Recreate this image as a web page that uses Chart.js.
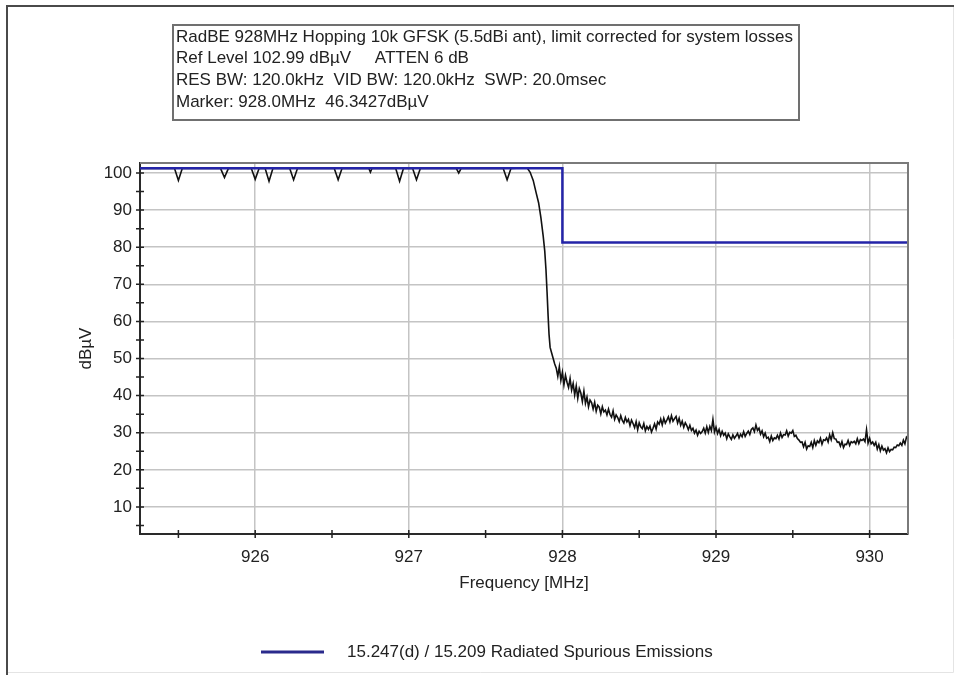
<!DOCTYPE html>
<html>
<head>
<meta charset="utf-8">
<script src="https://cdn.jsdelivr.net/npm/chart.js@4.4.1/dist/chart.umd.min.js"></script>
<style>
  html, body { margin: 0; padding: 0; background: #fff; }
  canvas { display: block; }
</style>
</head>
<body>
<canvas id="myChart" width="954" height="675"></canvas>
<script>
const FONT = '"Liberation Sans", Arial, sans-serif';

const infoLines = [
  'RadBE 928MHz Hopping 10k GFSK (5.5dBi ant), limit corrected for system losses',
  'Ref Level 102.99 dBµV     ATTEN 6 dB',
  'RES BW: 120.0kHz  VID BW: 120.0kHz  SWP: 20.0msec',
  'Marker: 928.0MHz  46.3427dBµV'
];

const limitLabel = '15.247(d) / 15.209 Radiated Spurious Emissions';
const limitFreq = [925.25, 928.0, 928.0, 930.25];
const limitLevel = [101.3, 101.3, 81.3, 81.3];

// measured sweep (MHz / dBµV)
const traceFreq = [
  925.25, 925.475, 925.5, 925.525, 925.775, 925.8, 925.825, 925.975, 926.0, 926.025,
  926.065, 926.09, 926.115, 926.225, 926.25, 926.275, 926.515, 926.54, 926.565, 926.74,
  926.75, 926.76, 926.915, 926.94, 926.965, 927.025, 927.05, 927.075, 927.31, 927.325,
  927.34, 927.615, 927.64, 927.665, 927.77,
  927.79, 927.81, 927.83, 927.845, 927.86, 927.875, 927.885, 927.893, 927.9, 927.907,
  927.913, 927.92, 927.93, 927.94, 927.95,
  927.96, 927.97, 927.98, 927.99, 928.00, 928.01, 928.02, 928.03, 928.04, 928.05,
  928.06, 928.07, 928.08, 928.09, 928.10, 928.11, 928.12, 928.13, 928.14, 928.15,
  928.16, 928.17, 928.18, 928.19, 928.20, 928.21, 928.22, 928.23, 928.24, 928.25,
  928.26, 928.27, 928.28, 928.29, 928.30, 928.31, 928.32, 928.33, 928.34, 928.35,
  928.36, 928.37, 928.38, 928.39, 928.40, 928.41, 928.42, 928.43, 928.44, 928.45,
  928.46, 928.47, 928.48, 928.49, 928.50, 928.51, 928.52, 928.53, 928.54, 928.55,
  928.56, 928.57, 928.58, 928.59, 928.60, 928.61, 928.62, 928.63, 928.64, 928.65,
  928.66, 928.67, 928.68, 928.69, 928.70, 928.71, 928.72, 928.73, 928.74, 928.75,
  928.76, 928.77, 928.78, 928.79, 928.80, 928.81, 928.82, 928.83, 928.84, 928.85,
  928.86, 928.87, 928.88, 928.89, 928.90, 928.91, 928.92, 928.93, 928.94, 928.95,
  928.96, 928.97, 928.98, 928.99, 929.00, 929.01, 929.02, 929.03, 929.04, 929.05,
  929.06, 929.07, 929.08, 929.09, 929.10, 929.11, 929.12, 929.13, 929.14, 929.15,
  929.16, 929.17, 929.18, 929.19, 929.20, 929.21, 929.22, 929.23, 929.24, 929.25,
  929.26, 929.27, 929.28, 929.29, 929.30, 929.31, 929.32, 929.33, 929.34, 929.35,
  929.36, 929.37, 929.38, 929.39, 929.40, 929.41, 929.42, 929.43, 929.44, 929.45,
  929.46, 929.47, 929.48, 929.49, 929.50, 929.51, 929.52, 929.53, 929.54, 929.55,
  929.56, 929.57, 929.58, 929.59, 929.60, 929.61, 929.62, 929.63, 929.64, 929.65,
  929.66, 929.67, 929.68, 929.69, 929.70, 929.71, 929.72, 929.73, 929.74, 929.75,
  929.76, 929.77, 929.78, 929.79, 929.80, 929.81, 929.82, 929.83, 929.84, 929.85,
  929.86, 929.87, 929.88, 929.89, 929.90, 929.91, 929.92, 929.93, 929.94, 929.95,
  929.96, 929.97, 929.98, 929.99, 930.00, 930.01, 930.02, 930.03, 930.04, 930.05,
  930.06, 930.07, 930.08, 930.09, 930.10, 930.11, 930.12, 930.13, 930.14, 930.15,
  930.16, 930.17, 930.18, 930.19, 930.20, 930.21, 930.22, 930.23, 930.24, 930.25
];
const traceLevel = [
  101.2, 101.2, 98.0, 101.2, 101.2, 98.8, 101.2, 101.2, 98.3, 101.2,
  101.2, 97.8, 101.2, 101.2, 98.2, 101.2, 101.2, 98.2, 101.2, 101.2,
  100.2, 101.2, 101.2, 97.8, 101.2, 101.2, 98.2, 101.2, 101.2, 100.0,
  101.2, 101.2, 98.2, 101.2, 101.4,
  100.2, 98.0, 94.5, 92.0, 88.0, 83.0, 79.0, 74.0, 68.0, 61.5,
  56.5, 53.0, 51.5, 50.0, 48.5,
  47.4, 45.2, 47.8, 44.1, 46.3, 42.9, 45.5, 43.6, 42.2, 44.6,
  41.5, 43.3, 40.2, 42.6, 39.3, 41.9, 40.7, 38.4, 41.2, 37.9,
  39.6, 37.0, 38.8, 38.1, 36.4, 38.2, 35.8, 37.4, 36.9, 35.1,
  37.0, 35.6, 36.1, 34.8, 36.4, 34.9, 34.2, 35.9, 33.6, 34.8,
  34.1, 33.0, 34.6, 33.3, 32.6, 34.1, 32.9, 33.6, 31.9, 33.4,
  32.5, 31.4, 33.0, 30.8, 32.7, 31.6, 31.1, 32.5, 30.5, 31.7,
  30.9, 31.8, 30.2, 31.2, 32.4, 31.0, 32.9, 32.3, 33.7, 32.1,
  33.9, 32.6, 33.4, 34.3, 32.9, 34.6, 33.1, 33.8, 34.4, 32.6,
  33.9, 32.0, 33.1, 31.5, 32.7, 31.9, 30.8, 32.0, 30.6, 31.2,
  29.9, 30.7, 29.3, 30.4, 29.8, 30.3, 31.2, 29.9, 31.6, 30.1,
  31.7, 30.6, 33.6, 30.2, 31.5, 29.8, 30.9, 29.2, 30.4, 29.3,
  29.9, 28.4, 29.7, 28.9, 28.2, 29.4, 28.5, 29.1, 29.8, 28.6,
  29.6, 28.9, 30.3, 29.0, 29.8, 30.4, 29.5, 30.9, 31.3, 30.3,
  32.1, 30.6, 31.2, 29.6, 30.5, 28.9, 29.9, 28.5, 28.8, 27.6,
  29.1, 27.9, 28.6, 28.4, 29.3, 28.3, 29.9, 28.7, 29.5, 29.4,
  30.5, 29.1, 30.1, 29.9, 30.6, 29.0, 29.3, 28.4, 28.0, 27.4,
  27.5, 26.2, 27.4, 25.6, 26.5, 26.3, 27.4, 26.0, 27.9, 26.6,
  27.8, 27.3, 28.5, 26.9, 28.1, 27.9, 28.6, 27.5, 29.4, 28.1,
  30.0, 28.4, 28.3, 27.4, 27.5, 26.4, 27.6, 26.0, 26.9, 26.8,
  27.9, 26.6, 27.6, 27.3, 27.7, 27.0, 28.4, 27.1, 28.2, 27.9,
  28.3, 27.6, 30.8, 27.2, 28.5, 27.0, 27.5, 26.6, 27.4, 25.6,
  26.8, 25.1, 26.4, 25.3, 25.7, 24.6, 25.9, 24.9, 25.5, 25.4,
  26.1, 26.0, 26.7, 26.5, 27.2, 26.6, 28.0, 27.0, 28.8, 28.3
];

const xTicks = [926, 927, 928, 929, 930];
const yTicks = [10, 20, 30, 40, 50, 60, 70, 80, 90, 100];
// small cross marks on the axes
const xMarks = [925.5, 926, 926.5, 927, 927.5, 928, 928.5, 929, 929.5, 930];
const yMarks = [5, 10, 15, 20, 25, 30, 35, 40, 45, 50, 55, 60, 65, 70, 75, 80, 85, 90, 95, 100];

Chart.defaults.font.family = FONT;
Chart.defaults.font.size = 17;
Chart.defaults.color = '#222';

const decor = {
  id: 'decor',
  beforeDraw(chart) {
    const c = chart.ctx;
    c.save();
    // outer window frame
    c.strokeStyle = '#4a4a4a';
    c.lineWidth = 2;
    c.beginPath();
    c.moveTo(7, 675); c.lineTo(7, 6); c.lineTo(954, 6);
    c.stroke();
    c.strokeStyle = '#e4e4e4';
    c.lineWidth = 1;
    c.beginPath();
    c.moveTo(8, 672.5); c.lineTo(953.5, 672.5); c.lineTo(953.5, 7);
    c.stroke();
    // info box
    c.strokeStyle = '#707070';
    c.lineWidth = 2;
    c.strokeRect(173, 25, 626, 95);
    c.fillStyle = '#222';
    c.font = '17px ' + FONT;
    c.textBaseline = 'middle';
    infoLines.forEach((t, i) => c.fillText(t, 176, 37 + i * 21.7));
    c.restore();
  },
  afterDraw(chart) {
    const c = chart.ctx, a = chart.chartArea;
    const xs = chart.scales.x, ys = chart.scales.y;
    c.save();
    // top / right plot border
    c.strokeStyle = '#7a7a7a';
    c.lineWidth = 2;
    c.beginPath();
    c.moveTo(a.left, a.top); c.lineTo(a.right, a.top); c.lineTo(a.right, a.bottom);
    c.stroke();
    // axis tick crosses
    c.strokeStyle = '#222';
    c.lineWidth = 1.5;
    c.beginPath();
    xMarks.forEach(v => {
      const px = xs.getPixelForValue(v);
      c.moveTo(px, a.bottom - 4); c.lineTo(px, a.bottom + 4);
    });
    yMarks.forEach(v => {
      const py = ys.getPixelForValue(v);
      c.moveTo(a.left - 4, py); c.lineTo(a.left + 4, py);
    });
    c.stroke();
    // legend
    const ds = chart.data.datasets[0];
    c.strokeStyle = '#2a2a8c';
    c.lineWidth = 3;
    c.beginPath();
    c.moveTo(261, 652); c.lineTo(324, 652);
    c.stroke();
    c.fillStyle = '#222';
    c.font = '17px ' + FONT;
    c.textBaseline = 'middle';
    c.fillText(ds.label, 347, 652);
    c.restore();
  }
};

const ctx = document.querySelector('#myChart');
new Chart(ctx, {
  type: 'line',
  data: {
    datasets: [{
      label: limitLabel,
      data: limitFreq.map((f, i) => ({ x: f, y: limitLevel[i] })),
      borderColor: '#2424a8',
      borderWidth: 2.5,
      pointRadius: 0
    }, {
      label: 'Trace',
      data: traceFreq.map((f, i) => ({ x: f, y: traceLevel[i] })),
      borderColor: '#111',
      borderWidth: 1.6,
      pointRadius: 0
    }]
  },
  options: {
    responsive: false,
    animation: false,
    events: [],
    layout: { padding: { left: 10, right: 46, top: 163, bottom: 41 } },
    plugins: {
      legend: { display: false },
      tooltip: { enabled: false }
    },
    scales: {
      x: {
        type: 'linear',
        min: 925.25,
        max: 930.25,
        afterFit: s => { s.height = 100; },
        afterBuildTicks: s => { s.ticks = xTicks.map(v => ({ value: v })); },
        ticks: { padding: 13, maxRotation: 0, autoSkip: false },
        grid: { color: '#c4c4c4', lineWidth: 1.5, drawTicks: false },
        border: { color: '#2a2a2a', width: 2 },
        title: { display: true, text: 'Frequency [MHz]', padding: { top: 0, bottom: 40 } }
      },
      y: {
        min: 2.7,
        max: 102.7,
        afterFit: s => { s.width = 130; },
        afterBuildTicks: s => { s.ticks = yTicks.map(v => ({ value: v })); },
        ticks: { padding: 8 },
        grid: { color: '#c4c4c4', lineWidth: 1.5, drawTicks: false },
        border: { color: '#2a2a2a', width: 2 },
        title: { display: true, text: 'dBµV', padding: { top: 66, bottom: 0 } }
      }
    }
  },
  plugins: [decor]
});
</script>
</body>
</html>
